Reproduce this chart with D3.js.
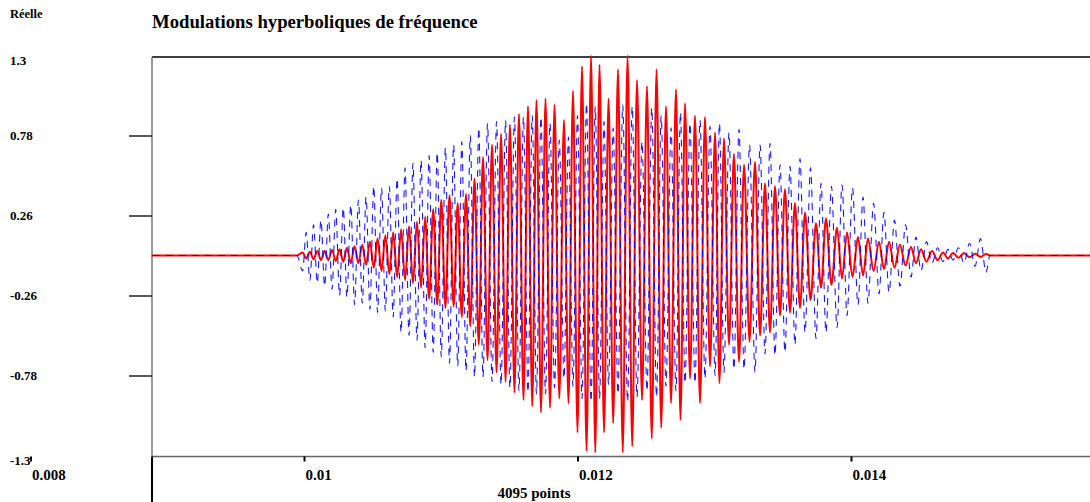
<!DOCTYPE html>
<html>
<head>
<meta charset="utf-8">
<script src="https://cdnjs.cloudflare.com/ajax/libs/d3/7.8.5/d3.min.js"></script>
<style>
  body { margin: 0; background: #fff; }
  svg { font-family: "Liberation Serif", "Times New Roman", serif; font-weight: bold; }
</style>
</head>
<body>
<div id="chart"></div>
<script>
var width = 1090;
var height = 502;

// y tick values (labels on the left)
var yTicks = [1.3, 0.78, 0.26, -0.26, -0.78, -1.3];
// x tick values (seconds)
var xTicks = [0.008, 0.01, 0.012, 0.014];

// times (ms) of the extrema, plus the flat zero ends
var tMs = [
  8.8, 9.949,
  9.990, 10.016, 10.043, 10.070, 10.097, 10.124, 10.151, 10.178, 10.205, 10.232,
  10.260, 10.287, 10.314, 10.342, 10.370, 10.398, 10.426, 10.454, 10.482, 10.510,
  10.538, 10.567, 10.595, 10.624, 10.652, 10.681, 10.710, 10.739, 10.768, 10.797,
  10.826, 10.856, 10.886, 10.915, 10.945, 10.974, 11.004, 11.034, 11.064, 11.094,
  11.124, 11.154, 11.185, 11.216, 11.247, 11.278,
  11.309, 11.342, 11.375, 11.408, 11.441, 11.474, 11.506, 11.539, 11.572, 11.605,
  11.638, 11.669, 11.700, 11.733, 11.766, 11.799, 11.832, 11.867, 11.901, 11.934,
  11.967, 12.000, 12.033, 12.066, 12.099, 12.130, 12.161, 12.194, 12.227, 12.261,
  12.296, 12.331, 12.366, 12.400, 12.435, 12.472, 12.508, 12.543, 12.578, 12.612,
  12.647, 12.684, 12.720, 12.753,
  12.786, 12.823, 12.859, 12.896, 12.932, 12.969, 13.006, 13.038, 13.071, 13.108,
  13.144, 13.181, 13.218, 13.258, 13.298, 13.335, 13.371, 13.408, 13.444, 13.481,
  13.517, 13.554, 13.590, 13.627, 13.664, 13.704, 13.744, 13.781, 13.817, 13.857,
  13.898, 13.934, 13.971, 14.011, 14.051, 14.088, 14.124, 14.165, 14.205, 14.241,
  14.278, 14.318, 14.358, 14.399, 14.439, 14.475, 14.512, 14.552, 14.592, 14.633,
  14.673, 14.709, 14.746, 14.786, 14.826, 14.867, 14.907, 14.947, 14.987,
  15.016, 15.8
];

// red (solid) values at those times
var red = [
  0, 0,
  0.02, -0.02, 0.025, -0.025, 0.03, -0.03, 0.03, -0.03, 0.035, -0.035,
  0.04, -0.04, 0.05, -0.05, 0.06, -0.05, 0.07, -0.06, 0.09, -0.08,
  0.11, -0.10, 0.13, -0.12, 0.15, -0.14, 0.17, -0.16, 0.19, -0.18,
  0.22, -0.21, 0.25, -0.28, 0.30, -0.32, 0.36, -0.34, 0.39, -0.33,
  0.34, -0.40, 0.40, -0.46, 0.50, -0.58,
  0.64, -0.68, 0.72, -0.76, 0.79, -0.82, 0.85, -0.89, 0.92, -0.94,
  0.97, -0.98, 1.01, -1.02, 1.02, -0.99, 0.98, -0.93, 0.88, -0.96,
  1.07, -1.15, 1.23, -1.27, 1.30, -1.28, 1.24, -1.15, 1.02, -1.09,
  1.21, -1.28, 1.30, -1.24, 1.14, -0.94, 1.10, -1.19, 1.21, -1.12,
  0.97, -0.96, 1.08, -1.07,
  0.99, -0.80, 0.91, -0.96, 0.90, -0.72, 0.80, -0.83, 0.76, -0.58,
  0.66, -0.69, 0.59, -0.56, 0.61, -0.52, 0.47, -0.50, 0.45, -0.39,
  0.43, -0.37, 0.34, -0.34, 0.28, -0.29, 0.21, -0.21, 0.24, -0.19,
  0.18, -0.15, 0.15, -0.14, 0.12, -0.13, 0.11, -0.10, 0.09, -0.09,
  0.09, -0.08, 0.07, -0.065, 0.055, -0.05, 0.04, -0.04, 0.03, -0.03,
  0.02, -0.02, 0.016, -0.015, 0.016, -0.012, 0.012, -0.01, 0.01,
  0, 0
];

// blue (dashed) values at those times
var blue = [
  0, 0,
  -0.10, 0.15, -0.16, 0.20, -0.18, 0.23, -0.20, 0.27, -0.22, 0.30,
  -0.26, 0.31, -0.27, 0.33, -0.32, 0.36, -0.31, 0.38, -0.35, 0.45,
  -0.37, 0.44, -0.36, 0.45, -0.40, 0.50, -0.50, 0.57, -0.52, 0.60,
  -0.55, 0.62, -0.60, 0.65, -0.63, 0.67, -0.66, 0.70, -0.70, 0.72,
  -0.72, 0.74, -0.75, 0.78, -0.79, 0.83,
  -0.79, 0.86, -0.82, 0.87, -0.84, 0.88, -0.86, 0.90, -0.88, 0.90,
  -0.89, 0.91, -0.90, 0.90, -0.90, 0.86, -0.86, 0.75, -0.80, 0.77,
  -0.85, 0.91, -0.93, 0.99, -0.95, 0.97, -0.93, 0.87, -0.84, 0.83,
  -0.90, 0.98, -0.95, 0.97, -0.92, 0.74, -0.88, 0.96, -0.92, 0.91,
  -0.85, 0.83, -0.88, 0.93,
  -0.83, 0.86, -0.83, 0.88, -0.80, 0.84, -0.78, 0.86, -0.76, 0.80,
  -0.74, 0.82, -0.74, 0.72, -0.76, 0.72, -0.64, 0.73, -0.65, 0.59,
  -0.63, 0.58, -0.58, 0.63, -0.50, 0.57, -0.54, 0.47, -0.50, 0.45,
  -0.47, 0.46, -0.39, 0.44, -0.32, 0.38, -0.31, 0.34, -0.25, 0.28,
  -0.24, 0.23, -0.20, 0.20, -0.14, 0.12, -0.10, 0.09, -0.05, 0.05,
  -0.04, 0.04, -0.03, 0.05, -0.05, 0.08, -0.07, 0.11, -0.11,
  0, 0
];

var rows = tMs.map(function(t, i) {
  return { t: t / 1000, red: red[i], blue: blue[i] };
});

var plotLeft = 152;
var plotRight = 1090;

// scales
var xScale = d3.scaleLinear().domain([0.008, 0.016]).range([30.5, 1124.5]);
var yScale = d3.scaleLinear().domain([-1.3, 1.3]).range([455.5, 55.5]);

var svg = d3
  .select("#chart")
  .append("svg")
  .attr("width", width)
  .attr("height", height);

svg.append("defs")
  .append("clipPath")
  .attr("id", "plot-clip")
  .append("rect")
  .attr("x", plotLeft)
  .attr("y", 0)
  .attr("width", plotRight - plotLeft)
  .attr("height", height);

// frame
svg.append("line")
  .attr("x1", plotLeft).attr("x2", plotRight)
  .attr("y1", 57).attr("y2", 57)
  .attr("stroke", "#000").attr("stroke-width", 1.6);
svg.append("line")
  .attr("x1", plotLeft).attr("x2", plotLeft)
  .attr("y1", 57).attr("y2", 456.5)
  .attr("stroke", "#777").attr("stroke-width", 1.5);
svg.append("line")
  .attr("x1", plotLeft).attr("x2", plotRight)
  .attr("y1", 456.5).attr("y2", 456.5)
  .attr("stroke", "#666").attr("stroke-width", 1.5);
svg.append("line")
  .attr("x1", plotLeft).attr("x2", plotLeft)
  .attr("y1", 456.5).attr("y2", height)
  .attr("stroke", "#000").attr("stroke-width", 2);

// y ticks
var yAxis = d3.axisLeft(yScale)
  .tickValues(yTicks.filter(function(v) { return Math.abs(v) < 1.3; }))
  .tickSize(23)
  .tickFormat("");
var gy = svg.append("g").attr("transform", "translate(" + plotLeft + ",0)").call(yAxis);
gy.select(".domain").remove();
gy.selectAll(".tick line").attr("stroke", "#222").attr("stroke-width", 1.5);

// y labels at far left
svg.selectAll(".ylabel")
  .data(yTicks)
  .enter()
  .append("text")
  .attr("class", "ylabel")
  .attr("x", 10)
  .attr("y", function(d) { return yScale(d) + (Math.abs(d) === 1.3 ? 9 : 4.5); })
  .style("font-size", "13px")
  .text(function(d) { return d; });

// x axis ticks and labels
var xAxis = d3.axisBottom(xScale)
  .tickValues(xTicks)
  .tickSize(5)
  .tickFormat(function(d) { return String(d); });
var gx = svg.append("g").attr("transform", "translate(0,456.5)").call(xAxis);
gx.select(".domain").remove();
gx.selectAll(".tick line").attr("stroke", "#000").attr("stroke-width", 2);
gx.selectAll(".tick text")
  .attr("text-anchor", "start")
  .attr("x", 1)
  .attr("y", 23.5)
  .attr("dy", 0)
  .attr("fill", "#000")
  .style("font-family", "'Liberation Serif', serif")
  .style("font-weight", "bold")
  .style("font-size", "15px");

// texts
svg.append("text").attr("x", 10).attr("y", 18).style("font-size", "12.5px").text("Réelle");
svg.append("text").attr("x", 152).attr("y", 28).style("font-size", "18.7px")
  .text("Modulations hyperboliques de fréquence");
svg.append("text").attr("x", 534).attr("y", 498).attr("text-anchor", "middle")
  .style("font-size", "15px").text("4095 points");

// signals
var plot = svg.append("g").attr("clip-path", "url(#plot-clip)");

var redLine = d3.line()
  .curve(d3.curveMonotoneX)
  .x(function(d) { return xScale(d.t); })
  .y(function(d) { return yScale(d.red); });
var blueLine = d3.line()
  .curve(d3.curveMonotoneX)
  .x(function(d) { return xScale(d.t); })
  .y(function(d) { return yScale(d.blue); });

plot.append("path")
  .datum(rows)
  .attr("d", redLine)
  .attr("fill", "none")
  .attr("stroke", "#ff0000")
  .attr("stroke-width", 2);

plot.append("path")
  .datum(rows)
  .attr("d", blueLine)
  .attr("fill", "none")
  .attr("stroke", "#0000ff")
  .attr("stroke-opacity", 0.9)
  .attr("stroke-width", 1.1)
  .attr("stroke-dasharray", "7,6");
</script>
</body>
</html>
